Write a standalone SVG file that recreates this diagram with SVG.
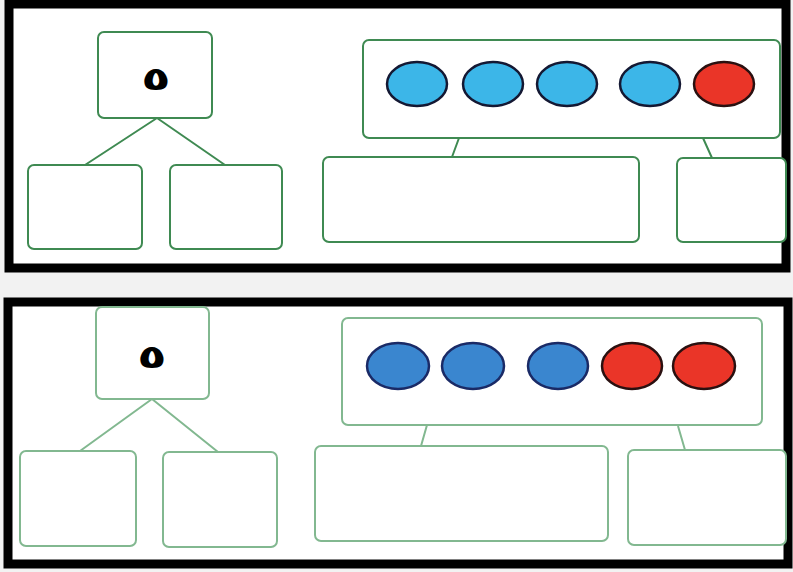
<svg xmlns="http://www.w3.org/2000/svg" width="793" height="572" viewBox="0 0 793 572">
<style>
.frame{fill:#ffffff;stroke:#000;stroke-width:9}
.b1{fill:#fff;stroke:#3f8a52;stroke-width:2}
.b2{fill:#fff;stroke:#82b890;stroke-width:2}
.c1{stroke:#3f8a52;stroke-width:2;fill:none}
.c2{stroke:#82b890;stroke-width:2;fill:none}
.lb{fill:#3cb6e8;stroke:#141833;stroke-width:2.5}
.db{fill:#3a86cf;stroke:#1a2a66;stroke-width:2.5}
.rd{fill:#ea3528;stroke:#2a1010;stroke-width:2.5}
.five{font-family:"DejaVu Sans","Noto Sans",sans-serif;font-weight:bold;fill:#000;text-anchor:middle}
</style>
<rect x="0" y="0" width="793" height="572" fill="#f2f2f2"/>
<rect class="frame" x="9" y="4" width="777" height="264"/>
<rect class="frame" x="8" y="302" width="780" height="262"/>
<g id="connectors">
<path class="c1" d="M157 118 L85 165 M157 118 L225 165 M459 138 L452 157 M703 138 L712 158"/>
<path class="c2" d="M152 399 L80 451 M152 399 L218 452 M427 425 L421 446 M678 426 L685 450"/>
</g>
<g id="p1-top"><rect class="b1" x="98" y="32" width="114" height="86" rx="6"/><text class="five" transform="translate(156,90) scale(1.5,1)" x="0" y="0" font-size="32">٥</text></g>
<g id="p1-left"><rect class="b1" x="28" y="165" width="114" height="84" rx="6"/></g>
<g id="p1-right"><rect class="b1" x="170" y="165" width="112" height="84" rx="6"/></g>
<g id="p1-set"><rect class="b1" x="363" y="40" width="417" height="98" rx="6"/>
<ellipse class="lb" cx="417" cy="84" rx="30" ry="22"/>
<ellipse class="lb" cx="493" cy="84" rx="30" ry="22"/>
<ellipse class="lb" cx="567" cy="84" rx="30" ry="22"/>
<ellipse class="lb" cx="650" cy="84" rx="30" ry="22" fill="#36a8e0"/>
<ellipse class="rd" cx="724" cy="84" rx="30" ry="22"/></g>
<g id="p1-wide"><rect class="b1" x="323" y="157" width="316" height="85" rx="6"/></g>
<g id="p1-small"><rect class="b1" x="677" y="158" width="109" height="84" rx="6"/></g>
<g id="p2-top"><rect class="b2" x="96" y="307" width="113" height="92" rx="6"/><text class="five" transform="translate(152,368) scale(1.5,1)" x="0" y="0" font-size="32">٥</text></g>
<g id="p2-left"><rect class="b2" x="20" y="451" width="116" height="95" rx="6"/></g>
<g id="p2-right"><rect class="b2" x="163" y="452" width="114" height="95" rx="6"/></g>
<g id="p2-set"><rect class="b2" x="342" y="318" width="420" height="107" rx="6"/>
<ellipse class="db" cx="398" cy="366" rx="31" ry="23"/>
<ellipse class="db" cx="473" cy="366" rx="31" ry="23"/>
<ellipse class="db" cx="558" cy="366" rx="30" ry="23"/>
<ellipse class="rd" cx="632" cy="366" rx="30" ry="23"/>
<ellipse class="rd" cx="704" cy="366" rx="31" ry="23"/></g>
<g id="p2-wide"><rect class="b2" x="315" y="446" width="293" height="95" rx="6"/></g>
<g id="p2-small"><rect class="b2" x="628" y="450" width="158" height="95" rx="6"/></g>
</svg>
